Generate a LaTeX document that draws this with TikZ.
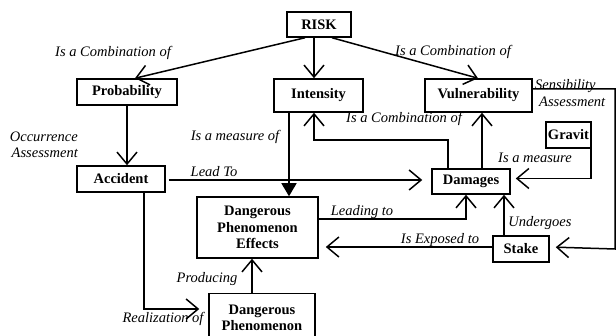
\documentclass[tikz,border=0pt]{standalone}
\usepackage{fontspec}
\setmainfont{Liberation Serif}
\usetikzlibrary{arrows.meta}
\tikzset{
  box/.style={draw, line width=1.5pt, rectangle, inner sep=0pt, align=center,
    font=\bfseries\fontsize{14.5}{16.3}\selectfont},
  lbl/.style={inner sep=0pt, align=center, font=\itshape\fontsize{14.5}{16.3}\selectfont},
  arr/.style={line width=1.5pt, -{Straight Barb[length=12pt,width=20pt,line width=1.5pt]}},
  tri/.style={line width=1.5pt, -{Triangle[length=13pt,width=15pt]}},
}
\begin{document}
\begin{tikzpicture}[x=1pt,y=-1pt]
\clip (0,0) rectangle (616,336);
\fill[white] (0,0) rectangle (616,336);
% nodes
\node[box, minimum width=64pt, minimum height=25pt] (risk) at (319,24.5) {RISK};
\node[box, minimum width=100pt, minimum height=26pt] (prob) at (127,92) {Probability};
\node[box, minimum width=89pt, minimum height=33pt] (inten) at (318.5,95.5) {Intensity};
\node[box, minimum width=107pt, minimum height=33pt] (vuln) at (478.5,95.5) {Vulnerability};
\node[box, minimum width=45pt, minimum height=26pt] (gravit) at (568.5,135) {Gravit};
\node[box, minimum width=78pt, minimum height=25pt] (damages) at (471,181.5) {Damages};
\node[box, minimum width=88pt, minimum height=26pt] (accident) at (121,179) {Accident};
\node[box, minimum width=121pt, minimum height=61pt] (effects) at (257.5,227.5) {Dangerous\\Phenomenon\\Effects};
\node[box, minimum width=106pt, minimum height=48pt, anchor=north] (dphen) at (262,293) {Dangerous\\Phenomenon};
\node[box, minimum width=56pt, minimum height=26pt] (stake) at (521,249) {Stake};
% connectors
\draw[arr] (305,0 |- risk.south) -- (135,0 |- prob.north);
\draw[arr] (314,0 |- risk.south) -- (314,0 |- inten.north);
\draw[arr] (332,0 |- risk.south) -- (478,0 |- vuln.north);
\draw[arr] (prob.south) -- (prob.south |- accident.north);
\draw[arr] (448,0 |- damages.north) -- (448,140) -| (314,0 |- inten.south);
\draw[arr] (482,0 |- damages.north) -- (482,0 |- vuln.south);
\draw[arr] ([xshift=-1pt]gravit.south east) |- ([xshift=5pt,yshift=3pt]damages.east);
\draw[tri] (289,0 |- inten.south) -- (289,0 |- effects.north);
\draw[arr, shorten >=9pt] ([xshift=3pt,yshift=-1pt]accident.east) -- ([yshift=1.5pt]damages.west);
\draw[arr] ([yshift=8.5pt]effects.east) -| (466,0 |- damages.south);
\draw[arr] (504,0 |- stake.north) -- (504,0 |- damages.south);
\draw[arr, shorten >=7pt] (stake.west |- 0,247) -- (effects.east |- 0,247);
\draw[arr, shorten >=6pt] ([yshift=6.5pt]vuln.east) -| (615,0 |- stake.east) -- ([yshift=2pt]stake.east);
\draw[arr, shorten >=9pt] (144,0 |- accident.south) |- ([yshift=-16pt]dphen.north west);
\draw[arr] (252,0 |- dphen.north) -- (252,0 |- effects.south);
% labels
\node[lbl] (l1) at (113,53) {Is a Combination of};
\node[lbl] (l2) at (453,52) {Is a Combination of};
\node[lbl, align=right, anchor=east] (l3) at (78,145) {Occurrence\\Assessment};
\node[lbl] (l4) at (235,137) {Is a measure of};
\node[lbl] (l5) at (404,119) {Is a Combination of};
\node[lbl, align=left, anchor=west] (l6) at (535,93) {Sensibility\\\hspace*{4pt}Assessment};
\node[lbl] (l7) at (535,158) {Is a measure};
\node[lbl] (l8) at (214,172) {Lead To};
\node[lbl] (l9) at (362,212) {Leading to};
\node[lbl] (l10) at (540,223) {Undergoes};
\node[lbl] (l11) at (440,240) {Is Exposed to};
\node[lbl] (l12) at (163,319) {Realization of};
\node[lbl] (l13) at (207,279) {Producing};
\end{tikzpicture}
\end{document}
